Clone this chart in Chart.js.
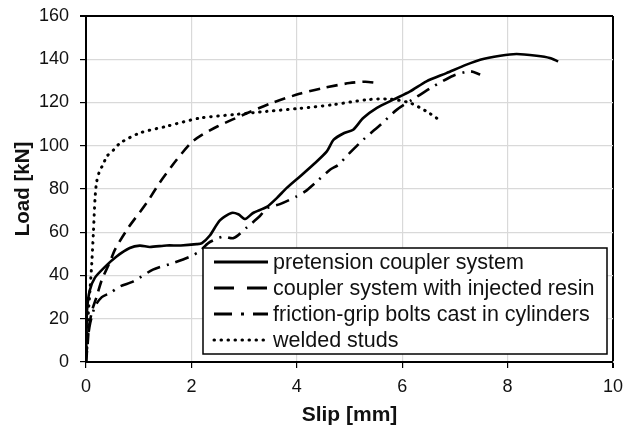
<!DOCTYPE html>
<html>
<head>
<meta charset="utf-8">
<script src="https://cdn.jsdelivr.net/npm/chart.js@4.4.1/dist/chart.umd.min.js"></script>
<style>
    html, body { margin: 0; padding: 0; background: #fff; }
    #wrap { width: 627px; height: 434px; }
</style>
</head>
<body>
<div id="wrap"><canvas id="slipChart" width="627" height="434"></canvas></div>
<script>
// series (slip in mm, load in kN)
const pretensionSlip = [0, 0.01, 0.02, 0.07, 0.17, 0.36, 0.58, 0.83, 1.02, 1.21, 1.53, 1.8, 2.1, 2.2, 2.35, 2.54, 2.76, 2.89, 3.02, 3.17, 3.43, 3.62, 3.81, 4.06, 4.31, 4.57, 4.7, 4.9, 5.07, 5.26, 5.52, 5.83, 6.15, 6.46, 6.84, 7.22, 7.48, 7.86, 8.17, 8.55, 8.8, 8.96];
const pretensionLoad = [0, 12, 24, 33, 39, 44, 48.8, 52.7, 53.8, 53.2, 53.9, 53.9, 54.5, 55, 58.5, 65.5, 68.9, 68.3, 66.1, 68.9, 71.7, 75.8, 80.5, 85.8, 91.2, 97.4, 102.8, 105.9, 107.4, 112.8, 117.5, 121.3, 125.1, 129.8, 133.6, 137.5, 139.8, 141.6, 142.4, 141.6, 140.6, 139];

const resinSlip = [0, 0.03, 0.06, 0.13, 0.2, 0.3, 0.45, 0.55, 0.8, 1.15, 1.4, 1.72, 2.0, 2.2, 2.5, 3.05, 3.55, 4.05, 4.5, 5.0, 5.3, 5.55];
const resinLoad = [0, 8, 17, 25, 30, 38, 46, 52, 62, 73.5, 83, 93.5, 101.5, 105, 109, 115, 120, 124, 126.7, 129, 129.6, 129];

const frictionSlip = [0, 0.03, 0.08, 0.17, 0.3, 0.46, 0.65, 0.9, 1.27, 1.63, 1.97, 2.16, 2.32, 2.6, 2.8, 3.05, 3.3, 3.43, 3.68, 4.0, 4.16, 4.38, 4.63, 4.79, 5.0, 5.26, 5.61, 5.9, 6.27, 6.59, 6.97, 7.29, 7.48];
const frictionLoad = [0, 10, 18, 25.7, 30, 32, 35, 37.3, 42.7, 45.6, 48.7, 51.2, 55, 58, 57.3, 62.2, 67.5, 71, 73, 76.6, 78.9, 83.5, 88.9, 91.2, 96.6, 102.8, 110.2, 116.7, 122.5, 127.4, 132.4, 134.4, 132.9];

const studsSlip = [0, 0.01, 0.04, 0.076, 0.11, 0.14, 0.17, 0.2, 0.26, 0.33, 0.39, 0.52, 0.65, 1.02, 1.53, 2.16, 2.8, 3.43, 4.06, 4.69, 5.33, 5.77, 6.15, 6.46, 6.72];
const studsLoad = [0, 2.6, 21, 33.4, 45.8, 59.7, 75, 83, 88.5, 91.5, 95, 98, 101.3, 105.9, 109, 112.8, 114.4, 115.9, 117.3, 119, 121.3, 121.6, 119.8, 115.9, 111.7];

const seriesLabels = ['pretension coupler system', 'coupler system with injected resin', 'friction-grip bolts cast in cylinders', 'welded studs'];
const xTicks = [0, 2, 4, 6, 8, 10];
const yTicks = [0, 20, 40, 60, 80, 100, 120, 140, 160];

function toPoints(xs, ys) {
    return xs.map((x, i) => ({ x: x, y: ys[i] }));
}

const gridGrey = '#d9d9d9';
const textColor = '#111';
const fontFamily = '"Liberation Sans", Arial, sans-serif';

// legend drawn inside the plot, lower right, with a framed box
const boxLegend = {
    id: 'boxLegend',
    afterDraw(chart) {
        const ctx = chart.ctx;
        const area = chart.chartArea;
        const w = 404, h = 106;
        const left = area.right - 6 - w;
        const top = area.bottom - 8 - h;
        ctx.save();
        ctx.fillStyle = '#fff';
        ctx.fillRect(left, top, w, h);
        ctx.strokeStyle = '#000';
        ctx.lineWidth = 1.5;
        ctx.strokeRect(left, top, w, h);
        ctx.font = '21.5px ' + fontFamily;
        ctx.textBaseline = 'middle';
        ctx.fillStyle = textColor;
        chart.data.datasets.forEach((ds, i) => {
            const y = top + 14 + i * 26;
            ctx.beginPath();
            ctx.setLineDash(ds.legendDash);
            ctx.lineCap = ds.borderCapStyle || 'butt';
            ctx.lineWidth = 3;
            ctx.strokeStyle = '#000';
            ctx.moveTo(left + 11, y);
            ctx.lineTo(left + 65, y);
            ctx.stroke();
            ctx.setLineDash([]);
            ctx.fillText(ds.label, left + 70, y + 1);
        });
        ctx.restore();
    }
};

const ctxSlip = document.getElementById('slipChart').getContext('2d');
const slipChart = new Chart(ctxSlip, {
    type: 'scatter',
    data: {
        datasets: [
            {
                label: seriesLabels[0],
                data: toPoints(pretensionSlip, pretensionLoad),
                borderDash: [],
                legendDash: [],
            },
            {
                label: seriesLabels[1],
                data: toPoints(resinSlip, resinLoad),
                borderDash: [11, 7],
                legendDash: [20, 13],
            },
            {
                label: seriesLabels[2],
                data: toPoints(frictionSlip, frictionLoad),
                borderDash: [14, 7, 2, 7],
                legendDash: [18, 9, 3, 9],
            },
            {
                label: seriesLabels[3],
                data: toPoints(studsSlip, studsLoad),
                borderDash: [0.5, 6.5],
                legendDash: [0.5, 6.5],
                borderCapStyle: 'round',
                borderWidth: 3,
            }
        ].map(ds => Object.assign({
            showLine: true,
            borderColor: '#000',
            backgroundColor: '#000',
            borderWidth: 2.6,
            pointRadius: 0,
            pointHoverRadius: 0,
            tension: 0.25,
            fill: false,
        }, ds))
    },
    options: {
        responsive: false,
        animation: false,
        layout: { padding: { left: 0, right: 14, top: 16, bottom: 0 } },
        plugins: {
            legend: { display: false },
            tooltip: { enabled: false },
        },
        scales: {
            x: {
                type: 'linear',
                min: 0,
                max: 10,
                afterBuildTicks: (scale) => { scale.ticks = xTicks.map(v => ({ value: v })); },
                afterFit: (scale) => {
                    scale.height = 72;
                    scale.paddingLeft = 0;
                    scale.paddingRight = 0;
                },
                ticks: { color: textColor, font: { family: fontFamily, size: 18 }, padding: 8 },
                grid: {
                    color: (c) => c.tick && c.tick.value === 10 ? '#000' : gridGrey,
                    lineWidth: (c) => c.tick && c.tick.value === 10 ? 2 : 1.2,
                    tickColor: '#000',
                    tickLength: 6,
                },
                border: { color: '#000', width: 2 },
                title: {
                    display: true,
                    text: 'Slip [mm]',
                    color: textColor,
                    font: { family: fontFamily, size: 21, weight: 'bold' },
                    padding: { top: 0, bottom: 6 },
                },
            },
            y: {
                min: 0,
                max: 160,
                afterBuildTicks: (scale) => { scale.ticks = yTicks.map(v => ({ value: v })); },
                afterFit: (scale) => {
                    scale.width = 86;
                    scale.paddingTop = 0;
                    scale.paddingBottom = 0;
                },
                ticks: { color: textColor, font: { family: fontFamily, size: 18 }, padding: 11 },
                grid: {
                    color: (c) => c.tick && c.tick.value === 160 ? '#000' : gridGrey,
                    lineWidth: (c) => c.tick && c.tick.value === 160 ? 2 : 1.2,
                    tickColor: '#000',
                    tickLength: 6,
                },
                border: { color: '#000', width: 2 },
                title: {
                    display: true,
                    text: 'Load [kN]',
                    color: textColor,
                    font: { family: fontFamily, size: 20.5, weight: 'bold' },
                    padding: { top: 11, bottom: 0 },
                },
            }
        }
    },
    plugins: [boxLegend]
});
</script>
</body>
</html>
